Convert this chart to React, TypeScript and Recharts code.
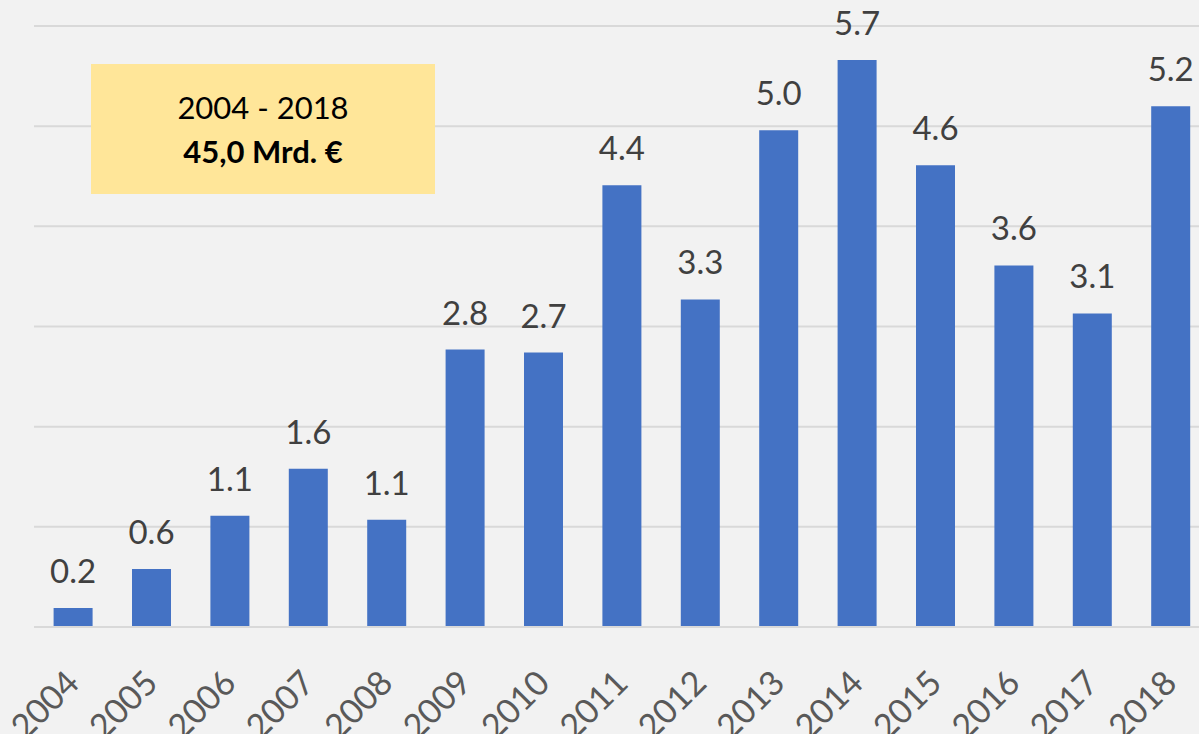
import { BarChart, Bar, XAxis, YAxis, CartesianGrid, LabelList } from "recharts"

const years = ["2004", "2005", "2006", "2007", "2008", "2009", "2010", "2011", "2012", "2013", "2014", "2015", "2016", "2017", "2018"]
const amounts = [0.19, 0.58, 1.11, 1.58, 1.07, 2.77, 2.74, 4.41, 3.27, 4.96, 5.66, 4.61, 3.61, 3.13, 5.2]
const yTicks = [0, 1, 2, 3, 4, 5, 6]
const boxLines = ["2004 - 2018", "45,0 Mrd. €"]

const chartData = years.map((year, i) => ({ year, amount: amounts[i] }))

const FONT = "Lato, 'Noto Sans', sans-serif"

function YearTick({ x, y, payload }: any) {
  return (
    <g transform={`translate(${x + 8},${y + 58}) rotate(-45)`}>
      <text x={0} y={0} textAnchor="end" fill="#595959" fontSize={34} fontFamily={FONT}>
        {payload.value}
      </text>
    </g>
  )
}

export default function App() {
  return (
    <div
      style={{
        position: "fixed",
        left: 0,
        top: 0,
        width: 1199,
        height: 734,
        overflow: "hidden",
        background: "#f2f2f2",
      }}
    >
      <BarChart
        width={1230}
        height={734}
        data={chartData}
        margin={{ top: 26, right: 20, left: 34, bottom: 0 }}
        barCategoryGap="25%"
      >
        <CartesianGrid horizontal vertical={false} stroke="#d9d9d9" strokeWidth={2} />
        <XAxis
          dataKey="year"
          height={107}
          tickSize={0}
          tickMargin={0}
          tickLine={false}
          axisLine={{ stroke: "#d9d9d9", strokeWidth: 2 }}
          tick={<YearTick />}
          interval={0}
        />
        <YAxis hide domain={[0, 6]} ticks={yTicks} />
        <Bar dataKey="amount" fill="#4472c4" isAnimationActive={false}>
          <LabelList
            dataKey="amount"
            position="top"
            offset={25}
            fill="#404040"
            fontSize={33}
            fontFamily={FONT}
            formatter={(v: any) => Number(v).toFixed(1)}
          />
        </Bar>
      </BarChart>
      <div
        style={{
          position: "absolute",
          left: 91,
          top: 64,
          width: 344,
          height: 130,
          background: "#ffe699",
          display: "flex",
          flexDirection: "column",
          justifyContent: "center",
          alignItems: "center",
          fontFamily: FONT,
          fontSize: 31,
          lineHeight: "44px",
          color: "#000",
        }}
      >
        <div>{boxLines[0]}</div>
        <div style={{ fontWeight: 700 }}>{boxLines[1]}</div>
      </div>
    </div>
  )
}
